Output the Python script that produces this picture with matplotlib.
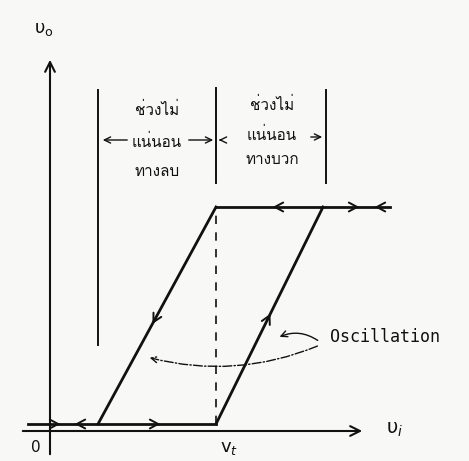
"""Comparator transfer characteristic with hysteresis (Schmitt-type), hand-sketch style."""

import matplotlib

matplotlib.use("Agg")
import matplotlib.pyplot as plt
from matplotlib import font_manager
from matplotlib.ft2font import FT2Font

# --- characteristic (units: arbitrary, origin at 0) ---
v_t = 16.6            # threshold on the v_i axis
v_low = 0.7           # output low level
v_high = 22.4         # output high level
low_start = -2.2      # where the low level is drawn from
high_end = 34.0       # where the high level is drawn to
fall_foot = 4.8       # falling edge meets the low level here
rise_top = 27.3       # rising edge meets the high level here

# uncertain-region markers (x positions) and their vertical extent
bounds_x = [fall_foot, v_t, 27.6]
bounds_y0 = [8.6, 24.8, 24.8]
bounds_y1 = [34.1, 34.3, 34.1]

# direction chevrons on the levels: (x tip, +1 right / -1 left)
low_arrows = [(1.3, 1), (2.2, -1), (11.3, 1)]
high_arrows = [(22.0, -1), (31.2, 1), (32.2, -1)]

left_label = ["ช่วงไม่", "แน่นอน", "ทางลบ"]
right_label = ["ช่วงไม่", "แน่นอน", "ทางบวก"]
left_label_y = [32.1, 28.9, 25.9]
right_label_y = [32.6, 29.6, 27.1]


def thai_family():
    for f in font_manager.fontManager.ttflist:
        try:
            if 0x0E0A in FT2Font(f.fname).get_charmap():
                return f.name
        except Exception:
            continue
    return "DejaVu Sans"


THAI = thai_family()
INK = "#111111"

fig = plt.figure(figsize=(4.69, 4.61), dpi=100, facecolor="#f8f8f6")
ax = fig.add_axes([0, 0, 1, 1])
ax.set_xlim(-5.0, 41.9)
ax.set_ylim(-3.0, 43.1)
ax.set_facecolor("#f8f8f6")
ax.axis("off")

# axes with arrow heads
arrow_kw = dict(arrowstyle="->,head_length=0.7,head_width=0.35", color=INK, lw=1.5)
ax.annotate("", xy=(31.5, 0), xytext=(-3.0, 0), arrowprops=arrow_kw)
ax.annotate("", xy=(0, 37.4), xytext=(0, -2.6), arrowprops=arrow_kw)
ax.text(-0.6, 40.2, r"$\mathrm{\upsilon}_{\mathrm{o}}$", fontsize=13,
        ha="center", va="center", color=INK)
ax.text(33.6, 0.2, r"$\mathrm{\upsilon}_{i}$", fontsize=14,
        ha="left", va="center", color=INK)
ax.text(-1.4, -1.6, "0", fontsize=11, ha="center", va="center", color=INK)
ax.text(17.9, -1.7, r"$\mathrm{v}_t$", fontsize=13, ha="center", va="center", color=INK)

# hysteresis loop
lw = 2.0
ax.plot([low_start, v_t], [v_low, v_low], color=INK, lw=lw)
ax.plot([v_t, high_end], [v_high, v_high], color=INK, lw=lw)
ax.plot([fall_foot, v_t], [v_low, v_high], color=INK, lw=lw)
ax.plot([v_t, rise_top], [v_low, v_high], color=INK, lw=lw)
ax.plot([v_t, v_t], [v_low, v_high], color=INK, lw=1.2, ls=(0, (5, 5)))

chev = dict(arrowstyle="->,head_length=0.6,head_width=0.32", color=INK, lw=1.4)
for x, d in low_arrows:
    ax.annotate("", xy=(x, v_low), xytext=(x - d * 0.8, v_low), arrowprops=chev)
for x, d in high_arrows:
    ax.annotate("", xy=(x, v_high), xytext=(x - d * 0.8, v_high), arrowprops=chev)

# travel direction along the edges
def along(x0, y0, x1, y1, t, dt):
    return (x0 + (x1 - x0) * t, y0 + (y1 - y0) * t), (x0 + (x1 - x0) * (t - dt), y0 + (y1 - y0) * (t - dt))

tip, tail = along(v_t, v_high, fall_foot, v_low, 0.55, 0.05)
ax.annotate("", xy=tip, xytext=tail, arrowprops=chev)
tip, tail = along(v_t, v_low, rise_top, v_high, 0.52, 0.05)
ax.annotate("", xy=tip, xytext=tail, arrowprops=chev)

# uncertain-region bounds
for x, y0, y1 in zip(bounds_x, bounds_y0, bounds_y1):
    ax.plot([x, x], [y0, y1], color=INK, lw=1.4)

small = dict(arrowstyle="->,head_length=0.45,head_width=0.22", color=INK, lw=1.0)
ax.annotate("", xy=(bounds_x[0] + 0.2, 29.1), xytext=(8.0, 29.1), arrowprops=small)
ax.annotate("", xy=(bounds_x[1], 29.1), xytext=(13.6, 29.1), arrowprops=small)
ax.annotate("", xy=(bounds_x[1], 29.1), xytext=(17.4, 29.1), arrowprops=small)
ax.annotate("", xy=(bounds_x[2] - 0.1, 29.4), xytext=(25.8, 29.4), arrowprops=small)

for txt, y in zip(left_label, left_label_y):
    ax.text(10.7, y, txt, family=[THAI, "DejaVu Sans"], fontsize=11,
            ha="center", va="center", color=INK)
for txt, y in zip(right_label, right_label_y):
    ax.text(22.2, y, txt, family=[THAI, "DejaVu Sans"], fontsize=11,
            ha="center", va="center", color=INK)

# oscillation note
ax.text(28.0, 9.4, "Oscillation", family="DejaVu Sans Mono", fontsize=12,
        ha="left", va="center", color=INK)
ax.annotate("", xy=(22.7, 9.3), xytext=(27.0, 8.9),
            arrowprops=dict(arrowstyle="->,head_length=0.45,head_width=0.22",
                            color=INK, lw=1.0, connectionstyle="arc3,rad=0.3"))
ax.annotate("", xy=(9.7, 7.4), xytext=(27.0, 8.6),
            arrowprops=dict(arrowstyle="->,head_length=0.45,head_width=0.22",
                            color=INK, lw=1.0, ls="-.", connectionstyle="arc3,rad=-0.17"))

fig.savefig("out.png", dpi=100, facecolor=fig.get_facecolor())
